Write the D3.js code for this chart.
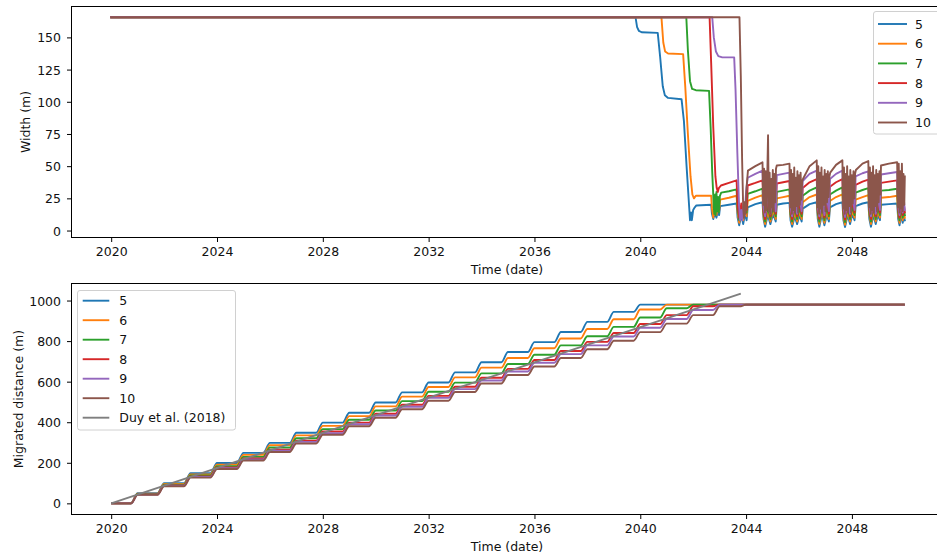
<!DOCTYPE html>
<html>
<head>
<meta charset="utf-8">
<script src="https://cdn.jsdelivr.net/npm/d3@7"></script>
<style>
  html, body { margin: 0; padding: 0; background: #fff; }
  svg { display: block; font-family: "DejaVu Sans", sans-serif; }
</style>
</head>
<body>
<svg id="chart" width="937" height="555"></svg>
<script>
// ---------- data ----------
const seriesNames = ["5", "6", "7", "8", "9", "10"];
const seriesColors = ["#1f77b4", "#ff7f0e", "#2ca02c", "#d62728", "#9467bd", "#8c564b"];
const duyLabel = "Duy et al. (2018)";
const duyColor = "#7f7f7f";
const yearTicks = [2020, 2024, 2028, 2032, 2036, 2040, 2044, 2048];
const widthTicks = [0, 25, 50, 75, 100, 125, 150];
const distanceTicks = [0, 200, 400, 600, 800, 1000];

// Channel width (m) through time, [decimal year, width]
const width5 = [
  [2020.00,165.7],[2039.82,165.7],[2039.88,158],[2039.95,155],[2040.05,154],[2040.66,153.5],[2040.75,135],[2040.85,112],[2040.93,105],[2041.05,103],[2041.56,102],[2041.65,85],[2041.75,50],[2041.88,8],[2041.92,14],[2041.95,8],[2042.00,16],[2042.06,18],[2042.12,19.5],[2042.68,20],
  [2042.71,13],[2042.76,9],[2042.82,14],[2042.88,10],[2042.93,15],[2042.98,12],
  [2043.02,19],[2043.35,20],[2043.64,21],
  [2043.68,10],[2043.74,4],[2043.82,12],[2043.89,5],[2043.96,13],[2044.02,8],
  [2044.06,18],[2044.35,20.5],[2044.62,22],
  [2044.66,9],[2044.72,3],[2044.82,12],[2044.92,5],[2045.02,13],[2045.12,7],
  [2045.16,20],[2045.40,21],[2045.64,21.5],
  [2045.68,8],[2045.74,3],[2045.84,11],[2045.93,5],[2046.02,12],[2046.10,7],
  [2046.14,17],[2046.40,20.5],[2046.67,22],
  [2046.71,9],[2046.77,3],[2046.87,13],[2046.96,4],[2047.05,12],[2047.13,7],
  [2047.17,18],[2047.40,20.5],[2047.64,22],
  [2047.68,8],[2047.74,2.8],[2047.84,12],[2047.93,5],[2048.02,13],[2048.10,8],
  [2048.14,19],[2048.40,21],[2048.62,22],
  [2048.66,9],[2048.72,3],[2048.81,12],[2048.90,5],[2048.98,12],[2049.06,8],
  [2049.10,20],[2049.40,20.5],[2049.71,21],
  [2049.75,9],[2049.80,4],[2049.86,12],[2049.92,6],[2049.96,11],[2050.00,8]
];
const width6 = [
  [2020.00,165.7],[2040.80,165.7],[2040.87,146],[2040.94,139],[2041.05,137.5],[2041.62,137],[2041.70,112],[2041.80,75],[2041.90,42],[2041.97,28],[2042.03,25],[2042.10,27],[2042.68,27],
  [2042.71,17],[2042.76,10],[2042.82,18],[2042.88,12],[2042.93,19],[2042.98,15],
  [2043.02,24],[2043.35,25.5],[2043.64,27],
  [2043.68,14],[2043.74,6],[2043.82,15],[2043.89,8],[2043.96,16],[2044.02,11],
  [2044.06,23],[2044.35,25.5],[2044.62,27.5],
  [2044.66,11],[2044.72,5],[2044.82,15],[2044.92,7],[2045.02,16],[2045.12,9],
  [2045.16,25],[2045.40,26],[2045.64,27],
  [2045.68,11],[2045.74,5],[2045.84,14],[2045.93,7],[2046.02,15],[2046.10,9],
  [2046.14,22],[2046.40,26],[2046.67,28],
  [2046.71,12],[2046.77,5],[2046.87,16],[2046.96,6],[2047.05,15],[2047.13,9],
  [2047.17,23],[2047.40,26],[2047.64,28],
  [2047.68,11],[2047.74,4.5],[2047.84,15],[2047.93,7],[2048.02,16],[2048.10,10],
  [2048.14,24],[2048.40,26],[2048.62,27.5],
  [2048.66,12],[2048.72,5],[2048.81,15],[2048.90,7],[2048.98,15],[2049.06,10],
  [2049.10,25.5],[2049.40,26],[2049.71,27],
  [2049.75,12],[2049.80,6],[2049.86,15],[2049.92,8],[2049.96,14],[2050.00,10]
];
const width7 = [
  [2020.00,165.7],[2041.74,165.7],[2041.80,140],[2041.88,116],[2041.96,110],[2042.10,109],[2042.60,108.5],[2042.66,80],[2042.72,45],[2042.78,18],[2042.80,13],[2042.83,28],[2042.85,12],[2042.88,30],[2042.91,15],[2042.94,26],[2042.97,14],[2043.01,27],[2043.06,29.5],[2043.35,30.5],[2043.64,32],
  [2043.68,17],[2043.74,8],[2043.82,18],[2043.89,10],[2043.96,19],[2044.02,14],
  [2044.06,28.5],[2044.35,30.5],[2044.62,32.5],
  [2044.66,13],[2044.72,7],[2044.82,19],[2044.92,9],[2045.02,19],[2045.12,11],
  [2045.16,30],[2045.40,31],[2045.64,32],
  [2045.68,13],[2045.74,7],[2045.84,18],[2045.93,9],[2046.02,18],[2046.10,11],
  [2046.14,27],[2046.40,31],[2046.67,33.5],
  [2046.71,14],[2046.77,7],[2046.87,20],[2046.96,8],[2047.05,19],[2047.13,11],
  [2047.17,28],[2047.40,31],[2047.64,33.5],
  [2047.68,13],[2047.74,6.5],[2047.84,19],[2047.93,9],[2048.02,19],[2048.10,12],
  [2048.14,29.5],[2048.40,31.5],[2048.62,33],
  [2048.66,14],[2048.72,7],[2048.81,19],[2048.90,9],[2048.98,18],[2049.06,12],
  [2049.10,31],[2049.40,31.5],[2049.71,32.5],
  [2049.75,14],[2049.80,8],[2049.86,18],[2049.92,10],[2049.96,17],[2050.00,12]
];
const width8 = [
  [2020.00,165.7],[2042.62,165.7],[2042.68,130],[2042.76,80],[2042.84,42],[2042.89,33],[2042.93,30],[2042.97,33],[2043.05,35],[2043.35,37],[2043.64,39],
  [2043.68,20],[2043.74,10],[2043.82,21],[2043.89,12],[2043.96,22],[2044.02,16],
  [2044.06,35],[2044.35,37],[2044.62,39],
  [2044.66,15],[2044.72,9],[2044.82,23],[2044.92,11],[2045.02,23],[2045.12,13],
  [2045.16,36.5],[2045.40,37.5],[2045.64,38.5],
  [2045.68,15],[2045.74,9],[2045.84,22],[2045.93,11],[2046.02,22],[2046.10,13],
  [2046.14,33],[2046.40,37.5],[2046.67,40],
  [2046.71,16],[2046.77,9],[2046.87,24],[2046.96,10],[2047.05,23],[2047.13,13],
  [2047.17,34],[2047.40,37.5],[2047.64,40],
  [2047.68,15],[2047.74,8.5],[2047.84,23],[2047.93,11],[2048.02,23],[2048.10,14],
  [2048.14,35.5],[2048.40,38],[2048.62,39.5],
  [2048.66,16],[2048.72,9],[2048.81,23],[2048.90,11],[2048.98,22],[2049.06,14],
  [2049.10,37],[2049.40,38],[2049.71,39],
  [2049.75,16],[2049.80,10],[2049.86,22],[2049.92,12],[2049.96,21],[2050.00,14]
];
const width9 = [
  [2020.00,165.7],[2042.72,165.7],[2042.78,150],[2042.86,139],[2042.95,135.5],[2043.10,134.5],[2043.55,134.5],[2043.60,110],[2043.67,60],[2043.73,22],[2043.77,8],[2043.82,16],[2043.86,8],[2043.90,18],[2043.95,12],[2044.00,30],[2044.06,41],[2044.35,44],[2044.62,46.5],
  [2044.66,18],[2044.72,11],[2044.82,27],[2044.92,13],[2045.02,27],[2045.12,15],
  [2045.16,43],[2045.40,44],[2045.64,45],
  [2045.68,18],[2045.74,11],[2045.84,26],[2045.93,13],[2046.02,26],[2046.10,15],
  [2046.14,38.5],[2046.40,44],[2046.67,46.5],
  [2046.71,19],[2046.77,11],[2046.87,28],[2046.96,12],[2047.05,27],[2047.13,15],
  [2047.17,40],[2047.40,44],[2047.64,46.5],
  [2047.68,18],[2047.74,10.5],[2047.84,27],[2047.93,13],[2048.02,27],[2048.10,16],
  [2048.14,42],[2048.40,44.5],[2048.62,46],
  [2048.66,19],[2048.72,11],[2048.81,27],[2048.90,13],[2048.98,26],[2049.06,16],
  [2049.10,43.5],[2049.40,44.5],[2049.71,45.5],
  [2049.75,19],[2049.80,12],[2049.86,26],[2049.92,14],[2049.96,25],[2050.00,16]
];
const width10 = [
  [2020.00,165.7],[2043.75,165.7],[2043.80,120],[2043.85,55],[2043.89,18],[2043.92,10],[2043.95,22],[2043.98,13],[2044.02,34],[2044.07,46.5],[2044.35,50],[2044.62,53],
  [2044.65,20],[2044.68,48],[2044.71,14],[2044.74,46],[2044.77,16],[2044.80,42],[2044.83,74],[2044.86,15],[2044.89,45],[2044.92,13],[2044.95,40],[2044.98,18],[2045.01,47],[2045.04,15],[2045.07,44],[2045.10,22],[2045.13,48],
  [2045.16,50.5],[2045.40,51],[2045.64,52],
  [2045.67,18],[2045.70,47],[2045.73,13],[2045.76,44],[2045.79,16],[2045.82,49],[2045.85,14],[2045.88,41],[2045.91,19],[2045.94,46],[2045.97,14],[2046.00,43],[2046.03,20],[2046.06,45],[2046.09,24],[2046.12,38],
  [2046.15,40],[2046.40,50],[2046.67,54.5],
  [2046.70,18],[2046.73,50],[2046.76,13],[2046.79,45],[2046.82,17],[2046.85,49],[2046.88,14],[2046.91,42],[2046.94,20],[2046.97,47],[2047.00,15],[2047.03,44],[2047.06,22],[2047.09,46],[2047.12,26],[2047.15,42],
  [2047.18,45],[2047.40,51],[2047.64,54.5],
  [2047.67,17],[2047.70,49],[2047.73,13],[2047.76,44],[2047.79,16],[2047.82,50],[2047.85,14],[2047.88,42],[2047.91,19],[2047.94,47],[2047.97,14],[2048.00,43],[2048.03,21],[2048.06,46],[2048.09,25],[2048.12,44],
  [2048.15,47],[2048.40,52],[2048.62,54],
  [2048.65,18],[2048.68,49],[2048.71,13],[2048.74,45],[2048.77,16],[2048.80,50],[2048.83,14],[2048.86,43],[2048.89,19],[2048.92,47],[2048.95,15],[2048.98,44],[2049.01,22],[2049.04,46],[2049.07,28],
  [2049.10,50.5],[2049.40,52],[2049.71,53],
  [2049.74,18],[2049.77,52],[2049.80,14],[2049.83,46],[2049.86,17],[2049.89,52],[2049.92,15],[2049.95,44],[2049.98,20],[2050.00,42]
];
const widthSeries = [width5, width6, width7, width8, width9, width10];

// Migrated distance (m): level reached at the start of each year (one step per year)
const levelYears = [2020,2021,2022,2023,2024,2025,2026,2027,2028,2029,2030,2031,2032,2033,2034,2035,2036,2037,2038,2039,2040,2041,2042,2043,2044];
const migrated5  = [0,50,99,149,199,249,298,348,398,447,497,547,596,646,696,746,795,845,895,944,980];
const migrated6  = [0,48,96,143,191,239,287,335,382,430,478,526,574,621,669,717,765,813,860,908,956,980];
const migrated7  = [0,46,92,137,183,229,275,321,366,412,458,504,550,595,641,687,733,779,824,870,916,962,980];
const migrated8  = [0,44,88,133,177,221,265,309,354,398,442,486,530,575,619,663,707,751,796,840,884,928,972,980];
const migrated9  = [0,43,87,130,173,217,260,303,346,390,433,476,520,563,606,650,693,736,779,823,866,909,953,980];
const migrated10 = [0,42,84,127,169,211,253,295,338,380,422,464,506,549,591,633,675,717,760,802,844,886,928,971,980];
const migratedSeries = [migrated5, migrated6, migrated7, migrated8, migrated9, migrated10];
const migratedEndYear = 2050.0;
const duyLine = [[2020.0, 0], [2043.8, 1034]];

// ---------- layout ----------
const svg = d3.select("#chart");
const fontFamily = "DejaVu Sans";
const fontSize = 12.5;
const textColor = "#111";
const lineW = 1.9;
const riseTime = 0.25;   // duration of each yearly migration step (years)

const x = d3.scaleLinear().domain([2018.5, 2051.5]).range([71.5, 944.5]);
const yTop = d3.scaleLinear().domain([-5.4, 174]).range([237.5, 6.5]);
const yBot = d3.scaleLinear().domain([-55, 1084]).range([514.5, 283.5]);

function styleAxis(sel) {
  sel.attr("font-family", fontFamily).attr("font-size", fontSize);
  sel.select(".domain").remove();
  sel.selectAll(".tick line").attr("stroke", "#000").attr("stroke-width", 1);
  sel.selectAll(".tick text").attr("fill", textColor);
}

function drawFrame(y, yTickVals, ylabel, ylabelX) {
  const [y0, y1] = y.range();
  const g = svg.append("g");
  const xa = g.append("g").attr("transform", `translate(0,${y0})`)
    .call(d3.axisBottom(x).tickValues(yearTicks).tickFormat(d3.format("d"))
      .tickSize(4.5).tickPadding(5).tickSizeOuter(0));
  styleAxis(xa);
  const ya = g.append("g").attr("transform", `translate(${x.range()[0]},0)`)
    .call(d3.axisLeft(y).tickValues(yTickVals).tickFormat(d3.format("d"))
      .tickSize(4.5).tickPadding(6).tickSizeOuter(0));
  styleAxis(ya);
  ya.selectAll(".tick text").attr("dy", "0.36em");
  g.append("text").attr("x", 507).attr("y", y0 + 36)
    .attr("text-anchor", "middle").attr("font-family", fontFamily)
    .attr("font-size", fontSize).attr("fill", textColor)
    .text("Time (date)");
  g.append("text")
    .attr("transform", `translate(${ylabelX},${(y0 + y1) / 2}) rotate(-90)`)
    .attr("text-anchor", "middle").attr("dy", "0.36em").attr("font-family", fontFamily)
    .attr("font-size", fontSize).attr("fill", textColor).text(ylabel);
}

function drawSpines(y) {
  const [y0, y1] = y.range();
  const [x0, x1] = x.range();
  svg.append("rect").attr("x", x0).attr("y", y1).attr("width", x1 - x0).attr("height", y0 - y1)
    .attr("fill", "none").attr("stroke", "#000").attr("stroke-width", 1);
}

function drawLegend(x0, y0, w, h, entries, firstY, step, lineX0, lineX1, textX) {
  const g = svg.append("g");
  g.append("rect").attr("x", x0).attr("y", y0).attr("width", w).attr("height", h)
    .attr("rx", 2.5).attr("fill", "#fff").attr("fill-opacity", 0.8)
    .attr("stroke", "#d0d0d0").attr("stroke-width", 1);
  entries.forEach((e, i) => {
    const cy = firstY + i * step;
    g.append("line").attr("x1", lineX0).attr("x2", lineX1).attr("y1", cy).attr("y2", cy)
      .attr("stroke", e.color).attr("stroke-width", lineW);
    g.append("text").attr("x", textX).attr("y", cy).attr("dy", "0.36em")
      .attr("font-family", fontFamily).attr("font-size", fontSize)
      .attr("fill", textColor).text(e.name);
  });
}

// ---------- top panel: width ----------
drawFrame(yTop, widthTicks, "Width (m)", 25);
svg.append("clipPath").attr("id", "clipTop").append("rect")
  .attr("x", 71.5).attr("y", 6.5).attr("width", 873).attr("height", 231);
const widthLine = d3.line().x(d => x(d[0])).y(d => yTop(d[1]));
const topLines = svg.append("g").attr("clip-path", "url(#clipTop)");
widthSeries.forEach((s, i) => {
  topLines.append("path").attr("d", widthLine(s)).attr("fill", "none")
    .attr("stroke", seriesColors[i]).attr("stroke-width", lineW)
    .attr("stroke-linejoin", "round").attr("stroke-linecap", "square");
});
drawSpines(yTop);
drawLegend(873.5, 11.5, 70, 122.5,
  seriesNames.map((n, i) => ({ name: n, color: seriesColors[i] })),
  24, 19.7, 878, 907, 915);

// ---------- bottom panel: migrated distance ----------
drawFrame(yBot, distanceTicks, "Migrated distance (m)", 18.5);
const distLine = d3.line().x(d => x(d[0])).y(d => yBot(d[1])).curve(d3.curveMonotoneX);
const botLines = svg.append("g");
migratedSeries.forEach((levels, i) => {
  const pts = [[levelYears[0], levels[0]]];
  for (let k = 1; k < levels.length; k++) {
    pts.push([levelYears[k] - riseTime, levels[k - 1]]);
    pts.push([levelYears[k], levels[k]]);
  }
  pts.push([migratedEndYear, levels[levels.length - 1]]);
  botLines.append("path").attr("d", distLine(pts)).attr("fill", "none")
    .attr("stroke", seriesColors[i]).attr("stroke-width", lineW)
    .attr("stroke-linejoin", "round");
});
botLines.append("path").attr("d", d3.line().x(d => x(d[0])).y(d => yBot(d[1]))(duyLine))
  .attr("fill", "none").attr("stroke", duyColor).attr("stroke-width", lineW);
drawSpines(yBot);
drawLegend(77.5, 290.5, 158, 139.5,
  seriesNames.map((n, i) => ({ name: n, color: seriesColors[i] }))
    .concat([{ name: duyLabel, color: duyColor }]),
  300.7, 19.5, 82.7, 109.3, 119.3);
</script>
</body>
</html>
